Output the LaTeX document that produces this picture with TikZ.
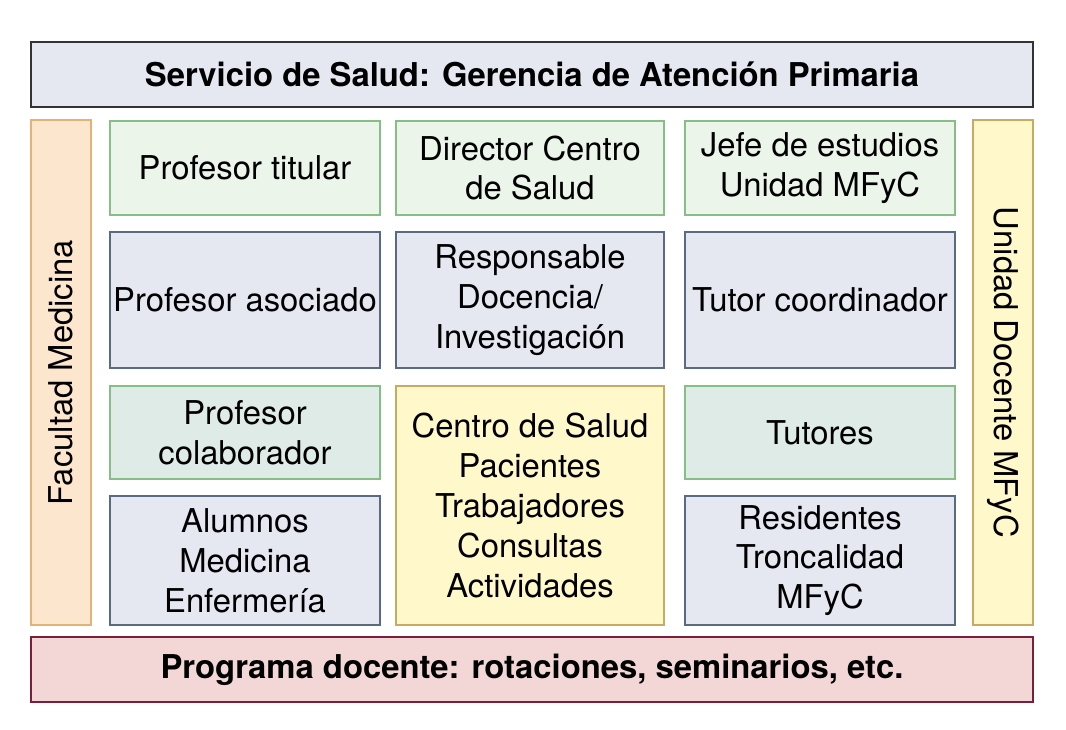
\documentclass[tikz,border=0pt]{standalone}
\usepackage{fontspec}
\setmainfont{TeX Gyre Heros}
\definecolor{bluegray}{HTML}{E5E7F1}
\definecolor{slateline}{HTML}{5A6A80}
\definecolor{mint}{HTML}{ECF5EA}
\definecolor{sage}{HTML}{DFEBE7}
\definecolor{leaf}{HTML}{86BF86}
\definecolor{peach}{HTML}{FDE6CE}
\definecolor{apricot}{HTML}{E3B274}
\definecolor{cream}{HTML}{FFF8CB}
\definecolor{ochre}{HTML}{C9AA62}
\definecolor{rose}{HTML}{F3D7D7}
\definecolor{maroon}{HTML}{7A1F3A}
\usepackage{tikz}

\begin{document}
\begin{tikzpicture}[x=0.015cm, y=-0.015cm,
  cell/.style={draw=slateline, fill=bluegray, line width=0.6pt, inner sep=0pt,
               minimum width=4.05cm, align=center,
               font=\fontsize{14}{17}\selectfont},
  top/.style={cell, fill=mint, draw=leaf},
  mid/.style={cell, fill=sage, draw=leaf},
  center/.style={cell, fill=cream, draw=ochre, minimum width=4.02cm},
  banner/.style={draw, line width=0.6pt, minimum width=15.03cm,
                 minimum height=0.975cm, inner sep=0pt,
                 font=\fontsize{14}{17}\selectfont\bfseries},
  side/.style={draw, line width=0.6pt, minimum width=0.9cm,
               minimum height=7.575cm, inner sep=0pt,
               font=\fontsize{14}{17}\selectfont},
]
\useasboundingbox (0,0) rectangle (1066,729);

\node[banner, fill=bluegray, draw=black!80] (gerencia) at (532,74.5)
  {Servicio de Salud: Gerencia de Atenci\'on Primaria};
\node[banner, fill=rose, draw=maroon] (programa) at (532,669.5)
  {Programa docente: rotaciones, seminarios, etc.};

\node[side, fill=peach, draw=apricot] (facultad) at (61,372.5) {};
\node[rotate=90, font=\fontsize{14}{17}\selectfont] at (facultad.center) {Facultad Medicina};
\node[side, fill=cream, draw=ochre] (unidad) at (1003,372.5) {};
\node[rotate=-90, font=\fontsize{14}{17}\selectfont] at (unidad.center) {Unidad Docente MFyC};

% first column
\node[top, minimum height=1.41cm] (titular) at (245,168) {Profesor titular};
\node[cell, minimum height=2.04cm] (asociado) at (245,300) {Profesor asociado};
\node[mid, minimum height=1.395cm] (colab) at (245,432.5) {Profesor\\colaborador};
\node[cell, minimum height=1.935cm] (alumnos) at (245,560.5) {Alumnos\\Medicina\\Enfermer\'ia};

% second column
\node[top, minimum width=4.02cm, minimum height=1.41cm] (director) at (530,168) {Director Centro\\de Salud};
\node[cell, minimum width=4.02cm, minimum height=2.04cm] (docencia) at (530,300) {Responsable\\Docencia/\\Investigaci\'on};
\node[center, minimum height=3.585cm] (centro) at (530,505.5)
  {Centro de Salud\\Pacientes\\Trabajadores\\Consultas\\Actividades};

% third column
\node[top, minimum height=1.41cm] (jefe) at (820,168) {Jefe de estudios\\Unidad MFyC};
\node[cell, minimum height=2.04cm] (coord) at (820,300) {Tutor coordinador};
\node[mid, minimum height=1.395cm] (tutores) at (820,432.5) {Tutores};
\node[cell, minimum height=1.935cm] (residentes) at (820,560.5) {Residentes\\Troncalidad\\MFyC};
\end{tikzpicture}
\end{document}
